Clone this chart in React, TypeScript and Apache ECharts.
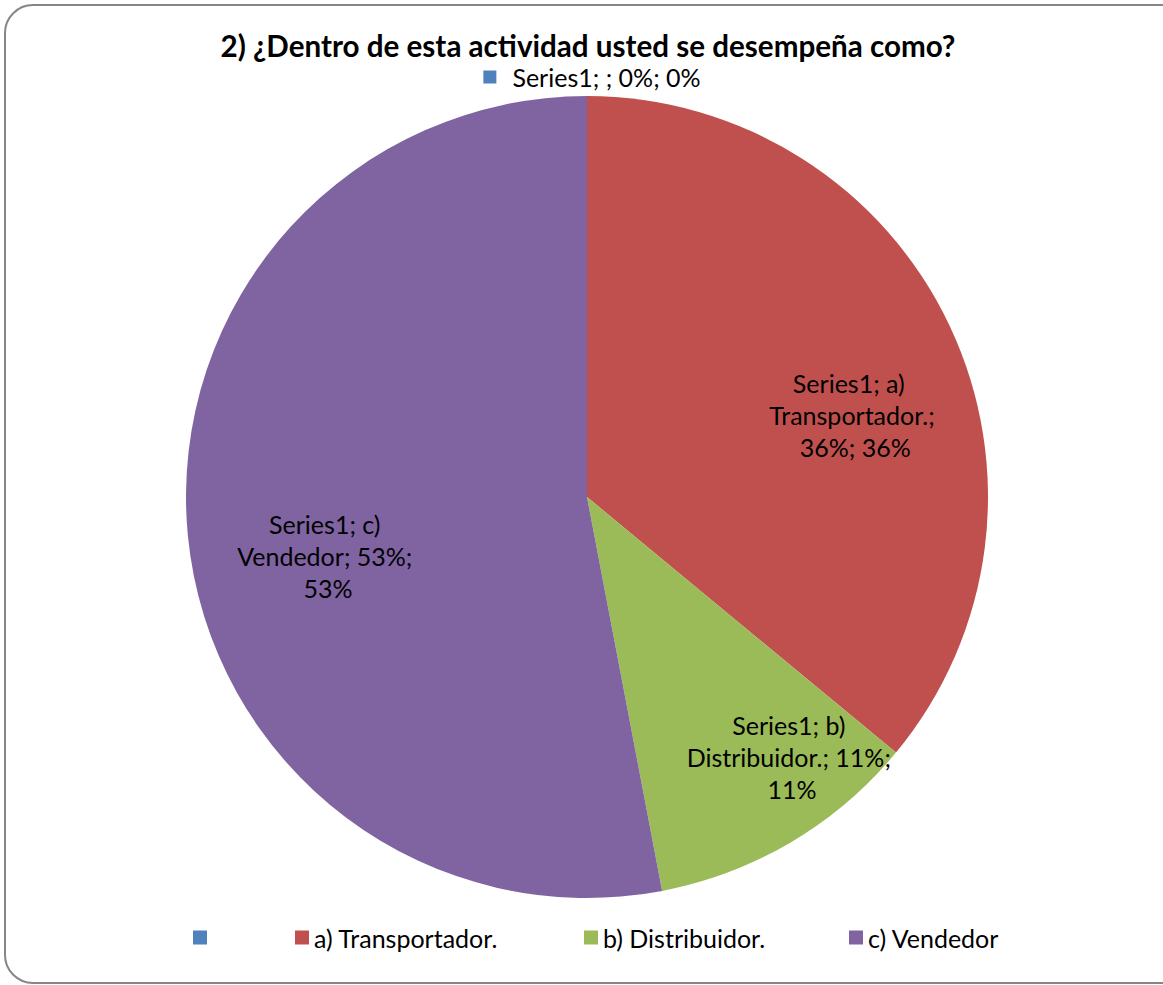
import React, { useEffect, useRef } from "react";
import * as echarts from "echarts";

const titleText = "2) ¿Dentro de esta actividad usted se desempeña como?";
const seriesName = "Series1";
const categories = ["", "a) Transportador.", "b) Distribuidor.", "c) Vendedor"];
const values = [0, 0.36, 0.11, 0.53];
const colors = ["#4F81BD", "#C0504D", "#9BBB59", "#8064A2"];

// layout config (not data)
const labelPos = [
  [592, 77],
  [852, 415],
  [792, 757],
  [328, 556],
];
const labelWidths = [400, 175, 220, 190];
const legendLeft = [193, 295, 584, 849];
const FONT = "Lato";

export default function App() {
  const ref = useRef<HTMLDivElement>(null);
  useEffect(() => {
    if (!ref.current) return;
    const chart = echarts.init(ref.current, null, { renderer: "svg" });
    const pct = (v: number) => `${Math.round(v * 100)}%`;
    const data = categories.map((c, i) => ({
      name: c === "" ? " " : c,
      value: values[i],
      itemStyle: { color: colors[i] },
      label: { width: labelWidths[i] },
    }));
    chart.setOption({
      animation: false,
      backgroundColor: "#ffffff",
      title: {
        text: titleText,
        left: 583,
        top: 25,
        textAlign: "center",
        textStyle: { fontFamily: FONT, fontSize: 29.6, fontWeight: "bold", color: "#000" },
      },
      graphic: [
        {
          type: "rect",
          shape: { x: 5, y: 5, width: 1190, height: 978, r: 28 },
          style: { fill: "none", stroke: "#868686", lineWidth: 2 },
          silent: true,
          z: 100,
        },
      ],
      legend: categories.map((c, i) => ({
        data: [c === "" ? " " : c],
        left: legendLeft[i],
        top: 925,
        padding: 0,
        itemWidth: 14,
        itemHeight: 14,
        itemGap: 0,
        icon: "rect",
        selectedMode: false,
        textStyle: { fontFamily: FONT, fontSize: 25, color: "#000" },
      })),
      series: [
        {
          type: "pie",
          name: seriesName,
          center: [587, 497],
          radius: 401,
          startAngle: 90,
          clockwise: true,
          avoidLabelOverlap: false,
          minShowLabelAngle: 0,
          label: {
            show: true,
            position: "inside",
            fontFamily: FONT,
            fontSize: 25,
            color: "#000",
            lineHeight: 32,
            align: "center",
            overflow: "break",
            formatter: (p: any) => {
              const nm = categories[p.dataIndex];
              const txt = `${seriesName}; ${nm}; ${pct(p.value)}; ${pct(p.value)}`;
              if (p.dataIndex === 0) return `{sq|}{gap|}${txt}`;
              return txt;
            },
            rich: {
              sq: { width: 13, height: 13, backgroundColor: colors[0] },
              gap: { width: 16 },
            },
          },
          labelLine: { show: false },
          labelLayout: (params: any) => ({
            x: labelPos[params.dataIndex][0],
            y: labelPos[params.dataIndex][1],
            align: "center",
            verticalAlign: "middle",
          }),
          itemStyle: { borderWidth: 0 },
          emphasis: { disabled: true },
          data,
        },
      ],
    });
    return () => chart.dispose();
  }, []);
  return (
    <div
      ref={ref}
      style={{ position: "absolute", left: 0, top: 0, width: 1163, height: 985 }}
    />
  );
}
